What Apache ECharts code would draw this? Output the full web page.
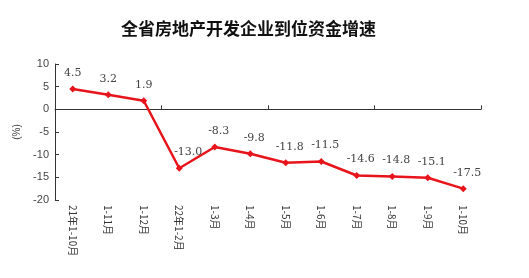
<!DOCTYPE html>
<html><head><meta charset="utf-8">
<script src="https://cdn.jsdelivr.net/npm/echarts@6/dist/echarts.min.js"></script>
<style>html,body{margin:0;padding:0;background:#fff}#c{width:529px;height:278px}</style>
</head><body><div id="c"></div>
<script>
const categories = ['21年1-10月','1-11月','1-12月','22年1-2月','1-3月','1-4月','1-5月','1-6月','1-7月','1-8月','1-9月','1-10月'];
const growth = [4.5, 3.2, 1.9, -13.0, -8.3, -9.8, -11.8, -11.5, -14.6, -14.8, -15.1, -17.5];
const yTicks = [10, 5, 0, -5, -10, -15, -20];

const seriesData = growth.map((v, i) => ({
  value: v,
  label: { offset: [i === 3 ? 9 : (v < 0 ? 4 : 0), 0] }
}));

const chart = echarts.init(document.getElementById('c'));
chart.setOption({
  animation: false,
  backgroundColor: '#fff',
  title: {
    text: '全省房地产开发企业到位资金增速',
    left: 116, top: 15,
    textStyle: { fontSize: 17, fontWeight: 'bold', color: '#111', fontFamily: 'Noto Sans CJK SC' }
  },
  grid: { left: 55, right: 48, top: 64, bottom: 78 },
  xAxis: [{
    type: 'category', data: categories, position: 'bottom',
    axisLine: { show: false, onZero: false }, axisTick: { show: false },
    axisLabel: { rotate: -90, fontSize: 10, color: '#333', margin: 5, interval: 0, fontFamily: 'Noto Sans CJK SC' }
  }, {
    type: 'category', data: categories, position: 'bottom',
    axisLine: { show: true, onZero: true, lineStyle: { color: '#333', width: 1 } },
    axisTick: { show: true, inside: true, length: 4, lineStyle: { color: '#333' } },
    axisLabel: { show: false }
  }],
  yAxis: {
    type: 'value', min: yTicks[yTicks.length-1], max: yTicks[0], interval: 5,
    name: '(%)', nameLocation: 'middle', nameRotate: 90, nameGap: 30,
    nameTextStyle: { fontSize: 10, color: '#444' },
    axisLine: { show: true, lineStyle: { color: '#333' } },
    axisTick: { show: true, inside: true, length: 4, lineStyle: { color: '#333' } },
    axisLabel: { fontSize: 11, color: '#444', margin: 6 },
    splitLine: { show: false }
  },
  series: [{
    type: 'line', data: seriesData, xAxisIndex: 0,
    symbol: 'diamond', symbolSize: 7,
    lineStyle: { color: '#e8141b', width: 2.5 },
    itemStyle: { color: '#e8141b' },
    label: { show: true, position: 'top', distance: 7, fontSize: 11, color: '#444', fontFamily: 'DejaVu Serif',
      formatter: p => p.value.toFixed(1) }
  }]
});
</script></body></html>
